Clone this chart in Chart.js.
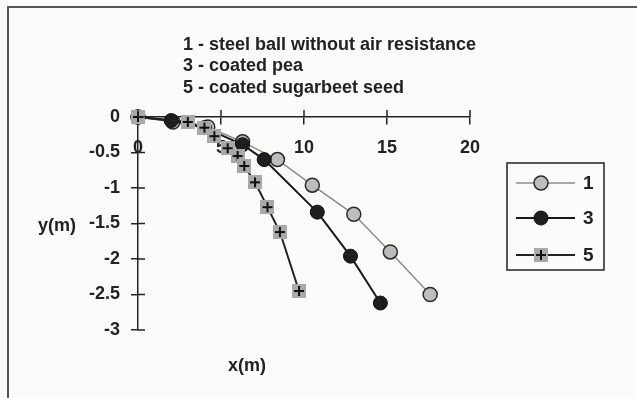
<!DOCTYPE html>
<html>
<head>
<meta charset="utf-8">
<script src="https://cdn.jsdelivr.net/npm/chart.js@4"></script>
<style>
  html, body { margin: 0; padding: 0; background: #fbfbf9; }
  #wrap { width: 637px; height: 398px; position: relative; }
</style>
</head>
<body>
<div id="wrap"><canvas id="chart" width="637" height="398"></canvas></div>
<script>
// values (x in m, y in m)
const seriesNames = ['1', '3', '5'];
const ballX = [0, 2.1, 4.2, 6.3, 8.4, 10.5, 13.0, 15.2, 17.6];
const ballY = [0, -0.07, -0.14, -0.35, -0.6, -0.96, -1.37, -1.9, -2.5];
const peaX = [0, 2.0, 4.0, 6.3, 7.6, 10.8, 12.8, 14.6];
const peaY = [0, -0.05, -0.15, -0.39, -0.6, -1.34, -1.96, -2.62];
const seedX = [0, 3.0, 4.0, 4.6, 5.4, 6.0, 6.4, 7.05, 7.8, 8.55, 9.7];
const seedY = [0, -0.07, -0.15, -0.27, -0.44, -0.55, -0.69, -0.92, -1.27, -1.62, -2.45];
const noteLines = ['1 - steel ball without air resistance', '3 - coated pea', '5 - coated sugarbeet seed'];
const xTitle = 'x(m)';
const yTitle = 'y(m)';

function pts(xs, ys) {
    let out = [];
    for (let i = 0; i < xs.length; i++) out.push({x: xs[i], y: ys[i]});
    return out;
}

// gray square with a black cross, used as point style for series 5
function crossSquare() {
    const c = document.createElement('canvas');
    c.width = 14; c.height = 14;
    const g = c.getContext('2d');
    g.fillStyle = '#a9a9a9';
    g.fillRect(0, 0, 14, 14);
    g.strokeStyle = '#111';
    g.lineWidth = 2;
    g.beginPath();
    g.moveTo(7, 2); g.lineTo(7, 12);
    g.moveTo(2, 7); g.lineTo(12, 7);
    g.stroke();
    return c;
}
const seedMark = crossSquare();

const FONT = '"Liberation Sans", Arial, sans-serif';
const INK = '#222';
const Y_AXIS_W = 60;

const decor = {
    id: 'decor',
    beforeDraw(chart) {
        const ctx = chart.ctx;
        ctx.save();
        ctx.fillStyle = '#fbfbf9';
        ctx.fillRect(0, 0, chart.width, chart.height);
        ctx.strokeStyle = '#555';
        ctx.lineWidth = 2;
        ctx.strokeRect(8, 7, 700, 500);
        ctx.restore();
    },
    afterDraw(chart) {
        const ctx = chart.ctx;
        const xs = chart.scales.x, ys = chart.scales.y;
        const x0 = xs.getPixelForValue(0), y0 = ys.getPixelForValue(0);
        ctx.save();
        // inner halves of the tick marks (ticks cross the axes)
        ctx.strokeStyle = INK;
        ctx.lineWidth = 1.5;
        ctx.beginPath();
        xs.ticks.forEach(t => {
            const px = xs.getPixelForValue(t.value);
            ctx.moveTo(px, y0 - 7); ctx.lineTo(px, y0);
        });
        ys.ticks.forEach(t => {
            const py = ys.getPixelForValue(t.value);
            ctx.moveTo(x0, py); ctx.lineTo(x0 + 7, py);
        });
        ctx.stroke();

        ctx.fillStyle = INK;
        ctx.font = 'bold 18px ' + FONT;
        ctx.textBaseline = 'middle';
        ctx.textAlign = 'left';
        noteLines.forEach((s, i) => ctx.fillText(s, 183, 45 + i * 21.5));
        ctx.textAlign = 'right';
        ctx.fillText(yTitle, 76, 226);
        ctx.textAlign = 'center';
        ctx.fillText(xTitle, 247, 366);

        // legend box
        ctx.strokeStyle = '#222';
        ctx.lineWidth = 1.5;
        ctx.strokeRect(507, 163, 97, 107);
        const rows = [183, 218, 255];
        chart.data.datasets.forEach((ds, i) => {
            const y = rows[i];
            ctx.strokeStyle = ds.borderColor;
            ctx.lineWidth = ds.borderWidth;
            ctx.beginPath();
            ctx.moveTo(516, y); ctx.lineTo(575, y);
            ctx.stroke();
            if (ds.pointStyle === 'circle') {
                ctx.beginPath();
                ctx.arc(541, y, ds.pointRadius, 0, Math.PI * 2);
                ctx.fillStyle = ds.pointBackgroundColor;
                ctx.fill();
                ctx.strokeStyle = ds.pointBorderColor;
                ctx.lineWidth = ds.pointBorderWidth;
                ctx.stroke();
            } else {
                ctx.drawImage(seedMark, 534, y - 7);
            }
            ctx.fillStyle = INK;
            ctx.font = 'bold 19px ' + FONT;
            ctx.textAlign = 'left';
            ctx.fillText(seriesNames[i], 583, y + 1);
        });
        ctx.restore();
    }
};

new Chart(document.getElementById('chart'), {
    type: 'scatter',
    data: {
        datasets: [
            {
                label: seriesNames[0], data: pts(ballX, ballY), showLine: true, order: 2, clip: false,
                borderColor: '#8c8c8c', borderWidth: 1.5,
                pointStyle: 'circle', pointRadius: 7,
                pointBackgroundColor: '#bdbdbd', pointBorderColor: '#2a2a2a', pointBorderWidth: 1.5
            },
            {
                label: seriesNames[1], data: pts(peaX, peaY), showLine: true, order: 1, clip: false,
                borderColor: '#1a1a1a', borderWidth: 2,
                pointStyle: 'circle', pointRadius: 7,
                pointBackgroundColor: '#1e1e1e', pointBorderColor: '#111', pointBorderWidth: 1
            },
            {
                label: seriesNames[2], data: pts(seedX, seedY), showLine: true, order: 0, clip: false,
                borderColor: '#222', borderWidth: 2,
                pointStyle: seedMark, pointRadius: 7
            }
        ]
    },
    options: {
        responsive: false,
        animation: false,
        layout: { padding: { left: 138 - Y_AXIS_W, right: 167, top: 117, bottom: 68 } },
        plugins: { legend: { display: false }, tooltip: { enabled: false } },
        scales: {
            x: {
                type: 'linear', min: 0, max: 20,
                position: { y: 0 },
                border: { display: true, color: INK, width: 1.5 },
                grid: { drawOnChartArea: false, drawTicks: true, tickLength: 7, color: INK, lineWidth: 1.5 },
                ticks: { stepSize: 5, color: INK, padding: 13, maxRotation: 0,
                         font: { family: FONT, size: 18, weight: 'bold' } }
            },
            y: {
                type: 'linear', min: -3, max: 0,
                position: 'left',
                afterFit(scale) { scale.width = Y_AXIS_W; },
                border: { display: true, color: INK, width: 1.5 },
                grid: { drawOnChartArea: false, drawTicks: true, tickLength: 7, color: INK, lineWidth: 1.5 },
                ticks: { stepSize: 0.5, color: INK, padding: 11,
                         callback: v => String(v),
                         font: { family: FONT, size: 18, weight: 'bold' } }
            }
        }
    },
    plugins: [decor]
});
</script>
</body>
</html>
